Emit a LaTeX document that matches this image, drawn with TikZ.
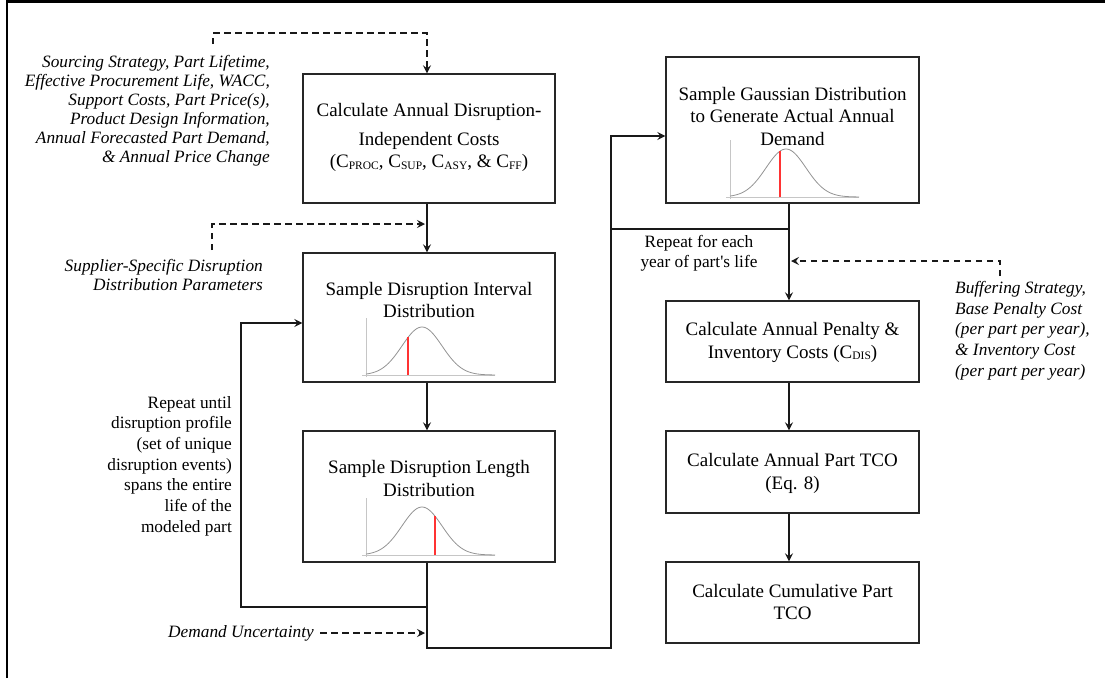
\documentclass[tikz,border=0pt]{standalone}
\usepackage{fontspec}
\setmainfont{Liberation Serif}
\usetikzlibrary{arrows.meta}
\newcommand{\sbs}[1]{\raisebox{-1.5pt}{\fontsize{11.5}{12}\selectfont #1}}
\newcommand{\bellplot}[3]{%
  \draw[axisline] ({#1},{#2+2}) -- ({#1},{#2-57});
  \draw[axisline] ({#1-4},{#2}) -- ({#1+129},{#2});
  \draw[curveline] plot[domain=-56:73,samples=70,smooth] ({#1+56+\x},{#2-48*exp(-\x*\x/800)});
  \draw[redline] ({#1+56+#3},{#2}) -- ({#1+56+#3},{#2-48*exp(-(#3)*(#3)/800)});
}
\tikzset{
  box/.style={draw=black!85, line width=1.4pt, minimum width=252pt, inner sep=0pt, rectangle},
  boxtext/.style={align=center, font=\fontsize{19}{22.5}\selectfont, inner sep=0pt},
  note/.style={font=\fontsize{17.3}{19}\selectfont\itshape, inner sep=0pt},
  plaintext/.style={font=\fontsize{17.3}{20.7}\selectfont, inner sep=0pt},
  flow/.style={line width=1.7pt, draw=black!90},
  flowarrow/.style={flow, -{Stealth[length=8pt,width=8pt,inset=3pt]}},
  dasharrow/.style={flowarrow, dash pattern=on 6.5pt off 4.5pt},
  curveline/.style={draw=gray!85, line width=0.8pt},
  axisline/.style={draw=gray!45, line width=0.8pt},
  redline/.style={draw=red!80!white, line width=1.3pt}
}
\begin{document}
\begin{tikzpicture}[x=1pt,y=-1pt]
\useasboundingbox[fill=white] (0,0) rectangle (1105,678);
% frame
\draw[line width=2.5pt] (6.8,678) -- (6.8,1.3) -- (1105,1.3);

% boxes
\node[box, minimum height=129pt] (b1) at (429,138.5) {};
\node[box, minimum height=129pt] (b2) at (429,317.5) {};
\node[box, minimum height=131pt] (b3) at (429,496.5) {};
\node[box, minimum height=146pt, minimum width=253pt] (b4) at (792.5,130) {};
\node[box, minimum height=81pt, minimum width=253pt] (b5) at (792.5,341.5) {};
\node[box, minimum height=82pt, minimum width=253pt] (b6) at (792.5,472) {};
\node[box, minimum height=81pt, minimum width=253pt] (b7) at (792.5,602.5) {};

% box texts
\node[boxtext] (t1) at (429,137.5) {Calculate Annual Disruption-\\[6pt]Independent Costs\\(C\sbs{PROC}, C\sbs{SUP}, C\sbs{ASY}, \& C\sbs{FF})};
\node[boxtext] (t2) at (429,300) {Sample Disruption Interval\\Distribution};
\node[boxtext] (t3) at (429,478.5) {Sample Disruption Length\\Distribution};
\node[boxtext] (t4) at (792.5,116) {Sample Gaussian Distribution\\to Generate Actual Annual\\Demand};
\node[boxtext] (t5) at (792.5,342.5) {Calculate Annual Penalty \&\\Inventory Costs (C\sbs{DIS})};
\node[boxtext] (t6) at (792.5,473.5) {Calculate Annual Part TCO\\(Eq. 8)};
\node[boxtext] (t7) at (792.5,602) {Calculate Cumulative Part\\TCO};

% bell curves
\bellplot{366}{375}{-14}
\bellplot{366}{555}{13}
\bellplot{730}{197}{-6}

% side texts
\node[note, align=right, anchor=east] (n1) at (270,110.5) {Sourcing Strategy, Part Lifetime,\\Effective Procurement Life, WACC,\\Support Costs, Part Price(s),\\Product Design Information,\\Annual Forecasted Part Demand,\\\& Annual Price Change};
\node[note, align=right, anchor=east] (n2) at (263,275.5) {Supplier-Specific Disruption\\Distribution Parameters};
\node[plaintext, align=right, anchor=east] (n3) at (232,466) {Repeat until\\disruption profile\\(set of unique\\disruption events)\\spans the entire\\life of the\\modeled part};
\node[plaintext, align=center, font=\fontsize{17.3}{20}\selectfont] (n4) at (699,253) {Repeat for each\\year of part\textquotesingle s life};
\node[note, anchor=east] (du) at (314,633) {Demand Uncertainty};
\node[note, align=left, anchor=west, font=\fontsize{17.3}{20.7}\selectfont\itshape] (n5) at (955,330.5) {Buffering Strategy,\\Base Penalty Cost\\(per part per year),\\\& Inventory Cost\\(per part per year)};

% reference coordinates
\coordinate (cl) at (427,0);
\coordinate (cr) at (789,0);
\coordinate (d1) at (213,44);
\coordinate (d2) at (212,250);
\coordinate (j1) at (425,224);
\coordinate (j2) at (427,607);
\coordinate (la) at (241,323);
\coordinate (j3) at (427,648);
\coordinate (ra) at (611,136);
\coordinate (j4) at (425,634);
\coordinate (j5) at (789,229);
\coordinate (d3) at (1000,276);
\coordinate (j6) at (791,261);

% connectors left column
\draw[dasharrow] (d1) -- ++(0,-11) -| (b1.north -| cl);
\draw[flowarrow] (b1.south -| cl) -- (b2.north -| cl);
\draw[dasharrow] (d2) |- (j1);
\draw[flowarrow] (b2.south -| cl) -- (b3.north -| cl);
\draw[flowarrow] (j2) -| (la) -- (la -| b2.west);
\draw[flowarrow] (b3.south -| cl) -- (j3) -| (ra) -- (ra -| b4.west);
\draw[dasharrow, shorten <=6pt] (du.east) -- (du.east -| j4);

% connectors right column
\draw[flowarrow] (b4.south -| cr) -- (b5.north -| cr);
\draw[flow] (j5) -- (j5 -| ra);
\draw[dasharrow] (d3) |- (j6);
\draw[flowarrow] (b5.south -| cr) -- (b6.north -| cr);
\draw[flowarrow] (b6.south -| cr) -- (b7.north -| cr);
\end{tikzpicture}
\end{document}
